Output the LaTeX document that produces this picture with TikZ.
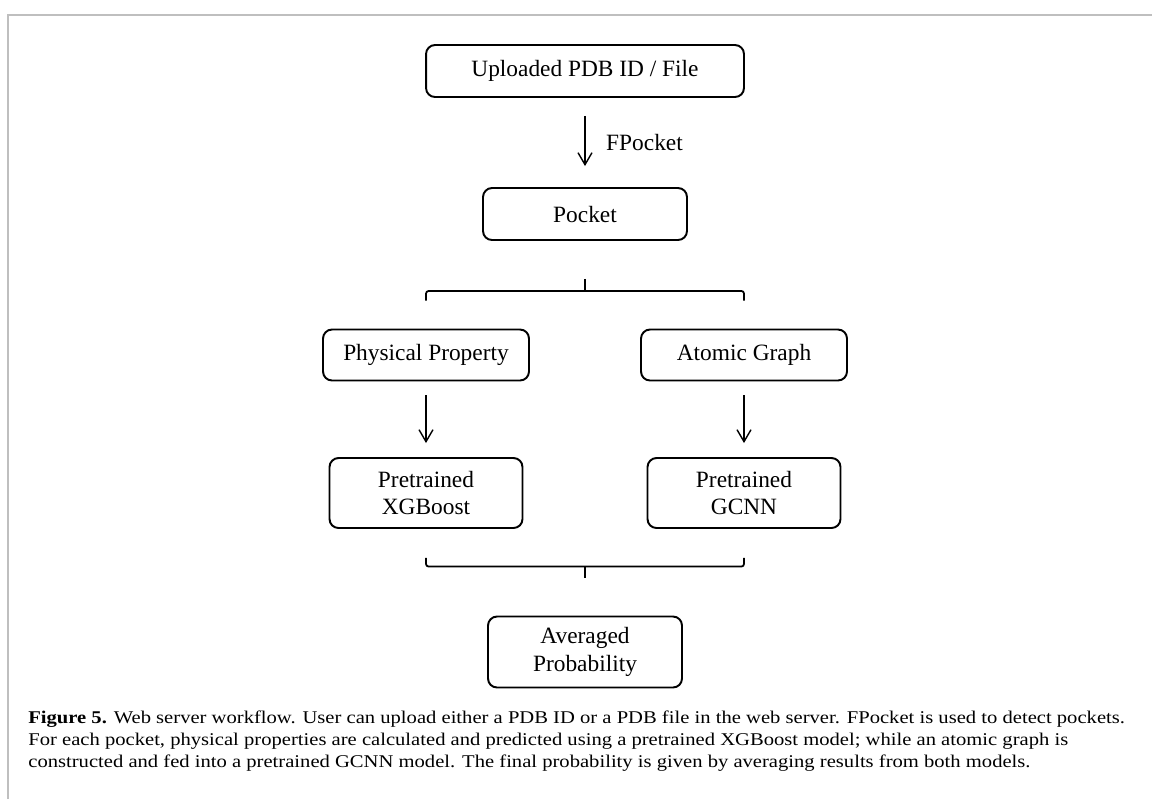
\documentclass[tikz,border=0pt]{standalone}
\usepackage{fontspec}
\setmainfont{Liberation Serif}
\newfontfamily\capfont[FakeStretch=1.15]{Liberation Serif}
\usetikzlibrary{arrows.meta}

\begin{document}
\begin{tikzpicture}[x=0.02cm, y=-0.02cm,
	box/.style = {draw, line width=1.1pt, rounded corners=0.18cm, align=center, inner sep=0pt, font=\fontsize{13.3}{15.6}\selectfont},
	flow/.style = {-{Straight Barb[length=2.4mm,width=2.8mm]}, line width=0.8pt},
	brace/.style = {line width=1pt, rounded corners=1.5pt}]
				\useasboundingbox (0,0) rectangle (1152,799);
				\draw [black!25, line width=0.9pt] (8,799) -- (8,15) -- (1152,15);
				\begin{scope}[every node/.style={box}]
					\node[minimum width=6.36cm, minimum height=1.04cm] (upl) at (585,71) {Uploaded PDB ID / File};
					\node[minimum width=4.08cm, minimum height=1.04cm] (pocket) at (585,214) {Pocket};
					\node[minimum width=4.12cm, minimum height=1.02cm] (phys) at (426,355) {Physical Property};
					\node[minimum width=4.12cm, minimum height=1.02cm] (ag) at (744,355) {Atomic Graph};
					\node[minimum width=3.86cm, minimum height=1.4cm] (xgb) at (426,493) {Pretrained\\XGBoost};
					\node[minimum width=3.86cm, minimum height=1.4cm] (gcnn) at (744,493) {Pretrained\\GCNN};
					\node[minimum width=3.88cm, minimum height=1.42cm] (avg) at (585,652) {Averaged\\Probability};
				\end{scope}
				\draw [flow, shorten <=0.36cm, shorten >=0.42cm] (upl) -- (pocket);
				\node[anchor=west, font=\fontsize{13.3}{15.6}\selectfont] (fpk) at (600,142) {FPocket};
				\draw [brace] ([yshift=0.56cm]phys.north) |- ([yshift=-1cm]pocket.south) -| ([yshift=0.56cm]ag.north);
				\draw [brace] ([yshift=-0.76cm]pocket.south) -- ([yshift=-1cm]pocket.south);
				\draw [flow, shorten <=0.28cm, shorten >=0.28cm] (phys) -- (xgb);
				\draw [flow, shorten <=0.28cm, shorten >=0.28cm] (ag) -- (gcnn);
				\draw [brace] ([yshift=-0.58cm]xgb.south) |- ([yshift=0.98cm]avg.north) -| ([yshift=-0.58cm]gcnn.south);
				\draw [brace] ([yshift=0.98cm]avg.north) -- ([yshift=0.76cm]avg.north);
				\node[anchor=base west, align=left, inner sep=0pt, font=\capfont\fontsize{10.2}{12.47}\selectfont] (cap) at (28,767)
					{\textbf{Figure 5.} Web server workflow. User can upload either a PDB ID or a PDB file in the web server. FPocket is used to detect pockets.\\
					For each pocket, physical properties are calculated and predicted using a pretrained XGBoost model; while an atomic graph is\\
					constructed and fed into a pretrained GCNN model. The final probability is given by averaging results from both models.};
			\end{tikzpicture}
\end{document}
